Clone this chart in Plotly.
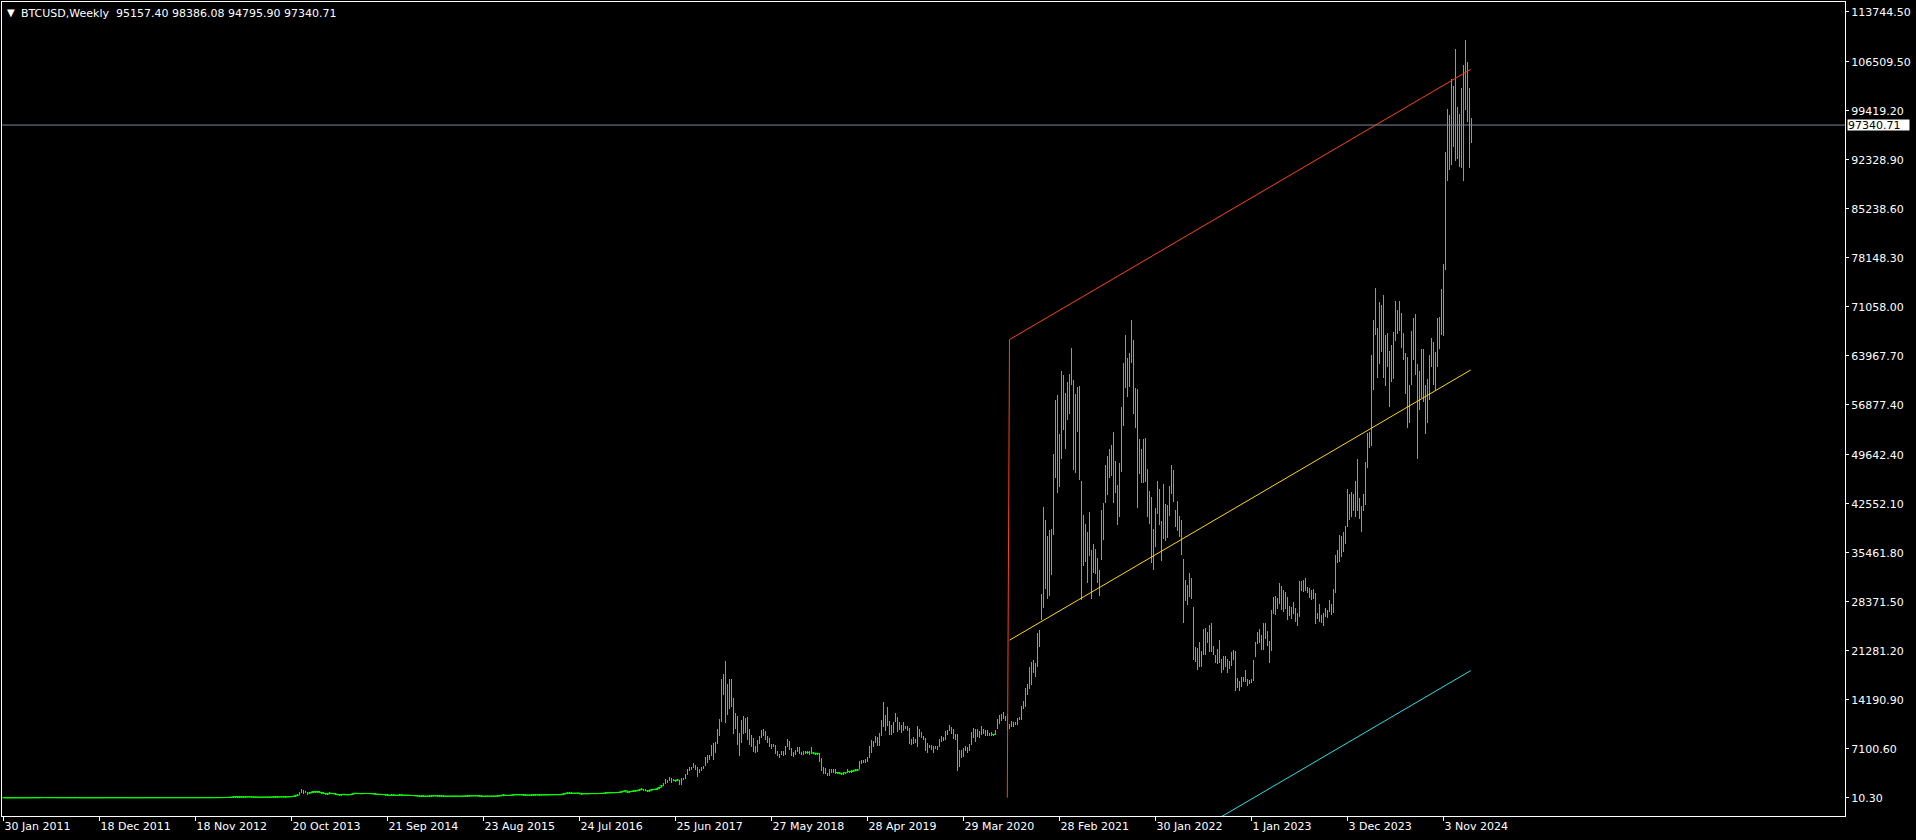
import plotly.graph_objects as go

# ---------------- chart values ----------------
symbol_title = "BTCUSD,Weekly"
last_ohlc = [95157.40, 98386.08, 94795.90, 97340.71]
bid_price = 97340.71

date_tick_bars = [0, 48, 96, 144, 192, 240, 288, 336, 384, 432, 480, 528, 576, 624, 672, 720]
date_tick_text = ["30 Jan 2011", "18 Dec 2011", "18 Nov 2012", "20 Oct 2013", "21 Sep 2014",
                  "23 Aug 2015", "24 Jul 2016", "25 Jun 2017", "27 May 2018", "28 Apr 2019",
                  "29 Mar 2020", "28 Feb 2021", "30 Jan 2022", "1 Jan 2023", "3 Dec 2023",
                  "3 Nov 2024"]

price_ticks = [113744.50, 106509.50, 99419.20, 92328.90, 85238.60, 78148.30, 71058.00,
               63967.70, 56877.40, 49642.40, 42552.10, 35461.80, 28371.50, 21281.20,
               14190.90, 7100.60, 10.30]

# weekly (low, high) per bar
wk_2011 = [(0.38,0.45),(0.40,0.45),(0.44,0.95),(0.75,1.10),(0.88,1.05),(0.80,0.95),(0.85,0.95),(0.83,0.93),(0.78,0.90),(0.75,0.88),
           (0.76,0.80),(0.70,0.80),(0.85,1.00),(1.05,1.60),(1.55,3.50),(2.80,4.00),(3.40,8.50),(6.50,8.50),(6.30,8.90),(8.70,18.5),
           (17.0,31.9),(10.0,29.6),(10.0,17.5),(14.0,17.5),(13.5,16.0),(13.9,14.5),(13.0,14.3),(13.4,14.1),(9.5,13.5),(6.8,11.0),
           (7.5,11.9),(8.0,11.0),(8.2,9.8),(6.9,8.8),(4.6,7.0),(4.5,6.2),(4.7,5.5),(4.6,5.2),(3.7,4.9),(2.2,4.0),
           (2.5,3.4),(3.0,3.6),(2.8,3.3),(2.0,3.0),(2.3,2.6),(2.5,3.3),(2.8,3.2),(2.9,3.3),(3.3,4.2),(3.9,4.8)]
wk_2012 = [(4.7,7.2),(6.3,7.4),(5.8,7.0),(5.5,6.4),(5.6,6.3),(5.6,6.1),(4.2,5.8),(4.4,5.2),(4.7,5.1),(4.8,5.1),
           (5.0,5.5),(4.6,5.3),(4.7,5.0),(4.8,5.0),(4.8,5.0),(4.9,5.2),(4.9,5.2),(4.9,5.2),(4.9,5.1),(5.0,5.2),
           (5.1,5.2),(5.1,5.3),(5.2,5.6),(5.5,6.0),(6.1,6.7),(6.4,6.8),(6.5,6.9),(6.8,7.8),(7.7,9.0),(8.4,8.9),
           (8.9,10.9),(10.8,11.5),(11.2,15.4),(7.1,12.0),(10.1,11.0),(10.2,11.1),(10.9,11.8),(11.8,12.9),(12.0,12.5),(11.9,12.9),
           (11.4,12.2),(11.4,11.9),(10.6,11.8),(10.4,11.0),(10.6,11.0),(10.7,11.0),(11.3,12.4),(12.0,12.6),(12.3,13.6),(13.1,13.7),
           (13.3,13.7),(13.3,13.6),(13.3,13.6)]
wk_2013 = [(13.4,14.2),(14.1,16.0),(15.9,18.5),(17.5,20.9),(19.3,22.0),(22.0,27.2),(26.5,30.0),(27.0,34.9),(33.0,46.9),(41.0,48.4),
           (46.0,74.0),(68.0,95.0),(92,147),(100,266),(55,125),(100,155),(85,145),(105,120),(110,125),(119,126),
           (121,135),(113,129),(95,110),(95,110),(86,109),(66,97),(73,98),(88,100),(86,98),(90,107),
           (95,107),(96,107),(107,125),(110,130),(110,130),(120,135),(121,130),(123,135),(110,141),(125,132),
           (133,155),(160,200),(185,215),(220,320),(320,440),(440,900),(740,1240),(576,1160),(690,1050),(450,800),
           (600,780),(700,800)]
wk_2014 = [(760,1030),(790,880),(790,1000),(750,860),(670,830),(580,710),(530,690),(420,680),(580,720),(590,680),
           (570,640),(480,600),(435,510),(340,480),(380,540),(480,520),(420,460),(430,445),(430,450),(440,530),
           (560,630),(640,670),(570,670),(580,630),(560,610),(590,660),(610,640),(610,630),(600,630),(570,600),
           (580,600),(480,590),(450,530),(490,520),(470,490),(460,480),(390,480),(380,440),(290,390),(320,410),
           (375,405),(350,390),(320,360),(320,450),(340,445),(340,380),(350,385),(350,385),(330,370),(310,350),
           (310,335),(265,320)]
wk_2015 = [(260,300),(150,285),(210,290),(210,260),(210,245),(215,240),(230,260),(232,260),(260,300),(270,300),
           (250,290),(240,275),(240,260),(230,260),(215,240),(215,235),(220,240),(230,245),(230,245),(230,242),
           (230,240),(222,232),(222,235),(232,253),(242,252),(250,266),(255,315),(268,295),(275,286),(280,298),
           (260,285),(255,272),(200,265),(198,235),(225,238),(228,240),(225,235),(230,240),(235,242),(240,250),
           (250,270),(265,290),(285,330),(320,500),(300,390),(310,340),(315,370),(355,400),(390,465),(430,470),
           (415,465),(410,440)]
wk_2016 = [(420,460),(360,455),(365,420),(365,400),(365,380),(370,405),(400,445),(400,440),(410,430),(395,420),
           (410,420),(410,420),(410,425),(415,425),(420,430),(425,455),(435,470),(445,465),(445,465),(435,460),
           (440,475),(515,580),(570,600),(600,780),(550,770),(600,700),(610,690),(640,680),(650,690),(650,680),
           (480,630),(580,600),(565,590),(570,585),(568,615),(600,630),(600,615),(590,605),(598,612),(605,620),
           (615,645),(630,660),(660,720),(690,740),(700,740),(700,760),(720,750),(730,780),(755,780),(770,800),
           (800,935),(890,980)]
wk_2017 = [(880,1160),(750,910),(820,930),(880,930),(910,1040),(940,1060),(990,1060),(1050,1210),(1170,1290),(1000,1330),
           (940,1260),(890,1110),(930,1100),(1090,1210),(1170,1210),(1190,1250),(1250,1350),(1380,1600),(1600,1850),(1700,2100),
           (2000,2760),(2150,2600),(2480,2980),(2100,2900),(2450,2780),(2350,2600),(2450,2700),(1840,2600),(1900,2920),(2500,2830),
           (2700,3450),(3300,4200),(3850,4480),(3950,4480),(4300,4980),(4000,4700),(2970,4450),(3600,4150),(3900,4450),(4220,4600),
           (4600,5850),(5100,6200),(5400,6200),(6000,7600),(5500,7900),(6500,8000),(7800,9950),(8900,11400),(10900,17200),(14800,17900),
           (10800,19800),(12000,16500),(12800,17250)]
wk_2018 = [(13100,17200),(9200,14400),(10000,12200),(7700,11900),(6000,9400),(7900,11300),(9300,11800),(9400,11500),(8300,11700),(7700,10000),
           (7400,9100),(6600,8700),(6500,7500),(6600,8400),(7850,9000),(8700,9750),(8900,9990),(8300,9700),(7900,8900),(7300,8600),
           (7050,7800),(7350,7800),(6300,7700),(6000,6800),(5800,6400),(6200,6800),(6050,6750),(6250,7550),(7300,8500),(6900,8250),
           (6000,7150),(5900,6600),(6200,6900),(6650,7350),(6300,7400),(6150,6600),(6150,6800),(6400,6800),(6450,6700),(6200,6700),
           (6400,7300),(6400,6550),(6250,6450),(6300,6550),(5200,6500),(3900,5700),(3500,4450),(3400,4300),(3200,3650),(3200,4200),
           (3600,4230),(3650,4100)]
wk_2019 = [(3500,4100),(3550,3750),(3500,3650),(3400,3560),(3350,3700),(3550,3700),(3600,4200),(3700,3900),(3680,3950),(3800,3950),
           (3900,4100),(3900,4150),(4100,5350),(4900,5450),(5000,5400),(5050,5600),(5200,5900),(5700,7500),(6500,8300),(7300,8200),
           (7900,9000),(7450,8800),(7550,9350),(8900,11250),(10300,13900),(9600,12000),(10400,13200),(9100,11100),(9100,10600),(9400,11000),
           (11000,12300),(9500,11700),(9850,10950),(9350,10600),(9600,10900),(9900,10450),(9600,10350),(7800,10100),(7700,8500),(7800,8800),
           (7900,8450),(7300,10350),(8800,9950),(8700,9550),(8400,8900),(6800,8600),(6500,7900),(7250,7700),(6950,7650),(6450,7500),
           (7050,7450),(6870,7520)]
wk_2020 = [(7350,8450),(8000,9000),(8250,8800),(8300,9600),(9100,9850),(9700,10500),(9300,10250),(8500,10000),(8400,9200),(3850,9200),
           (4500,6900),(5700,6950),(5850,7250),(6750,7450),(6450,7300),(6800,7800),(7600,9450),(8600,10050),(8100,10000),(8800,9950),
           (8600,9620),(9150,10400),(9250,9950),(9000,9800),(8900,9800),(8950,9400),(8950,9450),(9050,9300),(9150,9750),(9900,11450),
           (10700,12000),(11100,12100),(11400,12450),(11150,11800),(9850,12100),(9900,10650),(10200,11150),(10200,10950),(10550,10950),(10500,11500),
           (11200,11700),(11300,13350),(12900,14050),(13200,15950),(14800,16500),(15700,18970),(16300,19690),(18000,19950),(17520,19540),(18970,23800),
           (21860,24280),(25720,29490)]
wk_2021 = [(27420,42030),(30210,40190),(28760,37920),(29200,38740),(32230,38890),(38020,49700),(46200,57500),(44060,58350),(44930,52600),(49000,61800),
           (53200,61200),(50400,58600),(54700,60200),(55500,61300),(59800,65090),(47500,60500),(47000,58400),(53000,59500),(46000,59600),(28600,45800),
           (33540,40920),(34170,39560),(31030,38500),(34980,41400),(28750,35840),(32480,36710),(32340,35990),(31030,34690),(29200,32950),(34410,41640),
           (37300,42700),(42700,48100),(43810,49400),(46300,50500),(46500,51000),(42600,52900),(44090,48800),(39420,45200),(40670,48500),(47100,56600),
           (53800,62900),(59300,67000),(58000,63700),(59500,64300),(62900,69090),(55600,66300),(53500,59300),(42000,59100),(46800,51900),(45600,50500),
           (45500,51900),(45700,52000)]
wk_2022 = [(40600,47600),(39650,44400),(34000,43500),(32900,38900),(36300,42000),(41100,45800),(39500,44700),(34300,40000),(37500,45400),(37200,42500),
           (37600,42400),(40800,45100),(44000,48200),(42800,47400),(39200,41600),(38600,42900),(37700,40800),(35120,40190),(25300,34550),(28520,31510),
           (27890,30790),(29000,32570),(28760,31850),(19930,27560),(19690,21860),(18490,21620),(18870,22490),(18870,21240),(20660,24420),(20660,24610),
           (22350,23940),(21140,25000),(21140,25240),(20660,21960),(19550,20660),(19360,21530),(19460,22830),(18100,20030),(18490,20510),(18970,20510),
           (18100,20030),(18630,19790),(19110,21050),(19930,21390),(15490,21240),(15840,17290),(15490,16900),(16080,17430),(16710,17520),(16710,18490),
           (16220,17140),(16460,17040)]
wk_2023 = [(16560,17190),(16900,19930),(20420,22500),(22250,23940),(22440,24420),(21380,23550),(21380,25240),(22930,25240),(21960,24130),(19550,22730),
           (21280,27170),(26590,29010),(26450,29200),(27320,28860),(28040,31030),(27170,30640),(26920,30060),(27270,29820),(25720,29000),(26300,27750),
           (25900,27600),(26600,28400),(25400,27400),(24800,26800),(26200,31400),(29900,31400),(29800,31500),(29900,31800),(29600,30500),(28900,30400),
           (28600,30000),(28700,30200),(25200,29600),(25800,26800),(25400,28100),(25300,26400),(24900,26800),(26100,27500),(26000,27200),(26900,28600),
           (26500,28000),(26800,30200),(29700,35200),(33900,35900),(34100,38000),(34800,37900),(35600,38400),(36700,39300),(39200,44700),(40200,44000),
           (40600,44300),(41500,44000),(40700,45900)]
wk_2024 = [(41500,49000),(40300,43400),(38500,42200),(41500,43900),(42300,48600),(47700,52800),(50600,52900),(50900,64000),(59000,69200),(67000,73800),
           (60800,68000),(62800,71800),(64500,71300),(60700,72800),(59600,66900),(62400,67300),(56500,64700),(60100,65500),(60600,67400),(66100,71900),
           (67100,70600),(67600,71900),(65100,70200),(63400,67200),(58400,64300),(53500,63800),(54300,59800),(59800,67500),(63400,69400),(61200,70000),
           (49000,62700),(56100,61800),(57800,64900),(57200,65000),(52600,59800),(54200,60600),(57500,64100),(62300,66500),(59800,66000),(58900,64500),
           (62400,69400),(65000,69500),(67000,73600),(66800,77200),(76300,93500),(89300,99600),(90800,98800),(91600,104000),(94200,103000),(92200,108300),
           (92500,99900),(91300,98900)]
wk_2025 = [(91200,102700),(89200,106100),(99500,109600),(97800,106500),(91100,102700),(94795.90,98386.08)]

# regression channel (bar index, price)
channel_bars = [503.0, 733.6]
channel_upper = [66300, 105400]
channel_middle = [22800, 61900]
channel_lower = [-20700, 18400]
edge_bars = [501.9, 503.0]
edge_prices = [20, 66300]

# ---------------- build ----------------
weeks = (wk_2011 + wk_2012 + wk_2013 + wk_2014 + wk_2015 + wk_2016 + wk_2017 + wk_2018 +
         wk_2019 + wk_2020 + wk_2021 + wk_2022 + wk_2023 + wk_2024 + wk_2025)
idx = list(range(len(weeks)))
lows = [w[0] for w in weeks]
spans = [w[1] - w[0] for w in weeks]

# tiny bars (under ~2 px tall) show as short horizontal dashes in the terminal
small_x = [i for i, (lo, hi) in enumerate(weeks) if hi - lo < 300]
small_y = [(weeks[i][0] + weeks[i][1]) / 2 for i in small_x]

GREEN = "#00ff00"
FONT = "DejaVu Sans"
fig = go.Figure()

fig.add_trace(go.Bar(x=idx, y=spans, base=lows, width=0.5,
                     marker=dict(color=GREEN, line=dict(width=0)),
                     hoverinfo="skip"))
fig.add_trace(go.Scatter(x=small_x, y=small_y, mode="markers",
                         marker=dict(symbol="line-ew", size=3, color=GREEN,
                                     line=dict(color=GREEN, width=1)),
                         hoverinfo="skip"))

fig.add_trace(go.Scatter(x=edge_bars, y=edge_prices, mode="lines",
                         line=dict(color="#ff4500", width=1), hoverinfo="skip"))
fig.add_trace(go.Scatter(x=channel_bars, y=channel_upper, mode="lines",
                         line=dict(color="#ff4500", width=1), hoverinfo="skip"))
fig.add_trace(go.Scatter(x=channel_bars, y=channel_middle, mode="lines",
                         line=dict(color="#ffd700", width=1), hoverinfo="skip"))
fig.add_trace(go.Scatter(x=channel_bars, y=channel_lower, mode="lines",
                         line=dict(color="#22e0e6", width=1), hoverinfo="skip"))

fig.add_shape(type="line", xref="paper", x0=0, x1=1, yref="y", y0=bid_price, y1=bid_price,
              line=dict(color="#778899", width=1))

fig.add_annotation(xref="paper", x=1, xanchor="left", xshift=2, yref="y", y=bid_price,
                   yanchor="middle", text=f"{bid_price:.2f}", showarrow=False,
                   bgcolor="#ffffff", font=dict(family=FONT, size=11, color="#000000"),
                   width=61, height=10, align="left", borderpad=0)

fig.add_annotation(xref="paper", x=0, xanchor="left", xshift=3, yref="paper", y=1,
                   yanchor="middle", yshift=-10, text="▼", showarrow=False,
                   font=dict(family=FONT, size=10, color="#ffffff"))
fig.add_annotation(xref="paper", x=0, xanchor="left", xshift=17, yref="paper", y=1,
                   yanchor="middle", yshift=-11,
                   text=symbol_title + "  " + " ".join(f"{v:.2f}" for v in last_ohlc),
                   showarrow=False, font=dict(family=FONT, size=11, color="#ffffff"))

fig.update_layout(
    width=1916, height=840,
    paper_bgcolor="#000000", plot_bgcolor="#000000",
    margin=dict(l=2, r=71, t=2, b=24),
    showlegend=False,
    bargap=0,
    xaxis=dict(range=[-0.75, 920.75], showgrid=False, zeroline=False,
               showline=True, linecolor="#ffffff", linewidth=1, mirror=True,
               tickmode="array", tickvals=date_tick_bars, ticktext=date_tick_text,
               ticks="outside", ticklen=4, tickcolor="#ffffff", tickwidth=1,
               ticklabelposition="outside right",
               tickfont=dict(family=FONT, size=11, color="#ffffff")),
    yaxis=dict(range=[-2637.7, 115148], side="right", showgrid=False, zeroline=False,
               showline=True, linecolor="#ffffff", linewidth=1, mirror=True,
               tickmode="array", tickvals=price_ticks, ticktext=[f"{v:.2f}" for v in price_ticks],
               ticks="outside", ticklen=3, tickcolor="#ffffff", tickwidth=1,
               tickfont=dict(family=FONT, size=11, color="#ffffff")),
)

fig.write_html("out.html", config={"displayModeBar": False},
               post_script="document.body.style.margin='0';document.body.style.overflow='hidden';")
